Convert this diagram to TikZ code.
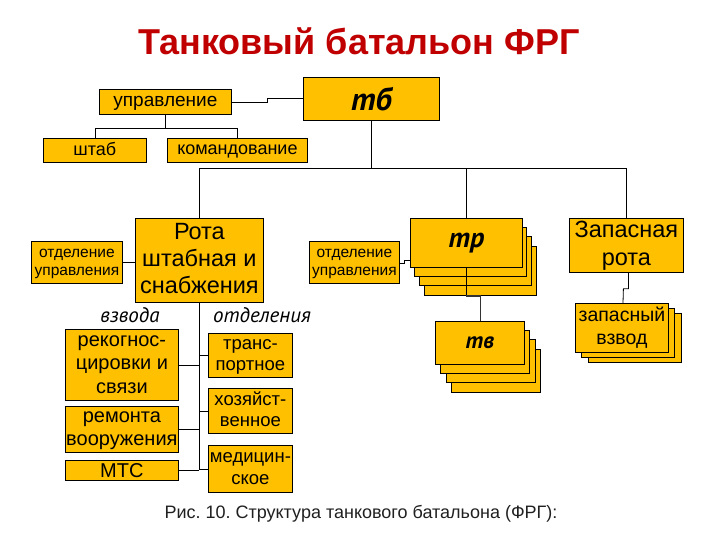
\documentclass[tikz,border=0pt]{standalone}
\usepackage{fontspec}
\setmainfont{Liberation Sans}
\newfontfamily\ptsans{PT Sans}
\frenchspacing
\definecolor{boxc}{HTML}{FFC000}
\definecolor{titlec}{HTML}{C00000}
\definecolor{capc}{HTML}{202020}
\newcommand{\fsz}[2]{\fontsize{#1}{#2}\selectfont}
\newcommand{\st}{\rule[-0.212em]{0pt}{0.905em}}
\tikzset{
  box/.style={draw=black, fill=boxc, line width=0.8pt, inner sep=0pt, anchor=north west, align=center},
  stk/.style={draw=black, fill=boxc, line width=0.8pt},
  conn/.style={draw=black, line width=0.8pt},
  thickconn/.style={draw=black!80, line width=1.6pt},
  grp/.style={font=\ptsans\itshape\fsz{21}{23}, inner sep=0pt, anchor=base},
}
\begin{document}
\begin{tikzpicture}[x=1pt,y=-1pt]
\useasboundingbox (0,0) rectangle (720,540);
\fill[white] (0,0) rectangle (720,540);

% title and caption
\node[font=\bfseries\fsz{36}{40}, text=titlec, anchor=base, inner sep=0pt] (title) at (359,55) {Танковый батальон ФРГ};
\node[font=\fsz{18}{20}, text=capc, anchor=base, inner sep=0pt] (caption) at (361,518) {Рис. 10. Структура танкового батальона (ФРГ):};

% top level
\node[box, minimum width=136, minimum height=43, font=\ptsans\bfseries\itshape\fsz{32}{34}] (tb) at (303,77) {тб};
\node[box, minimum width=132, minimum height=25, font=\fsz{19}{22}] (upr) at (99,89) {\st управление};
\node[box, minimum width=103, minimum height=24, font=\fsz{18}{21}] (shtab) at (43,138) {\st штаб};
\node[box, minimum width=140, minimum height=24, font=\fsz{18}{21}] (kom) at (167,138) {\st командование};

% companies
\node[box, minimum width=128, minimum height=84, font=\fsz{23.5}{27}] (rota) at (135,218) {\st Рота\\\st штабная и\\\st снабжения};
\node[box, minimum width=91, minimum height=42, font=\fsz{15.5}{18}] (oul) at (31,241) {\st отделение\\\st управления};
\node[box, minimum width=90, minimum height=42, font=\fsz{15.5}{18}] (our) at (309,241) {\st отделение\\\st управления};

\foreach \k in {3,2,1} \draw[stk] (410+\k*4.7, 218+\k*9.3) rectangle ++(112,49);
\node[box, minimum width=112, minimum height=49, font=\ptsans\bfseries\itshape\fsz{28}{30}] (tr) at (410,218) {тр};

\foreach \k in {3,2,1} \draw[stk] (435+\k*5.5, 321+\k*9.3) rectangle ++(89,43);
\node[box, minimum width=89, minimum height=43, font=\ptsans\bfseries\itshape\fsz{23}{25}] (tv) at (435,321) {тв};

\node[box, minimum width=114, minimum height=54, font=\fsz{23.5}{28}] (zap) at (569,218) {\st Запасная\\\st рота};
\foreach \k in {2,1} \draw[stk] (575+\k*6.5, 303+\k*5) rectangle ++(93,49);
\node[box, minimum width=93, minimum height=49, font=\fsz{19.5}{23}] (zv) at (575,303) {\st запасный\\\st взвод};

% platoons and sections of HQ company
\node[grp] (vzv) at (130,322) {взвода};
\node[grp] (otd) at (262,322) {отделения};
\node[box, minimum width=113, minimum height=71, font=\fsz{20}{23.5}] (rek) at (65,329) {\st рекогнос-\\\st цировки и\\\st связи};
\node[box, minimum width=113, minimum height=46, font=\fsz{20}{23.5}] (rem) at (65,406) {\st ремонта\\\st вооружения};
\node[box, minimum width=113, minimum height=20, font=\fsz{20}{22}] (mts) at (65,460) {МТС};
\node[box, minimum width=84, minimum height=44, font=\fsz{18.5}{21.5}] (trn) at (208,333) {\st транс-\\\st портное};
\node[box, minimum width=84, minimum height=45, font=\fsz{18.5}{21.5}] (hoz) at (208,388) {\st хозяйст-\\\st венное};
\node[box, minimum width=84, minimum height=47, font=\fsz{18.5}{21.5}] (med) at (208,445) {\st медицин-\\\st ское};

% connectors
\draw[conn] (upr.east) ++(0,0.5) -- ++(36,0) |- (tb.west);
\draw[conn] (upr.south) -- ++(0,14);
\draw[conn] (shtab.north) -- ++(0,-10) -| (kom.north);
\draw[conn] (tb.south) -- ++(0,48);
\draw[conn] (rota.north) -- ++(0,-50) -| (zap.north);
\draw[conn] (tr.north) -- ++(0,-50);
\draw[conn] (oul.east) -- (oul.east -| rota.west);
\draw[conn] (our.east) ++(0,1) -- ++(5,0) |- ([yshift=-17]tr.west);
\draw[conn] (rota.south) -- (rota.south |- mts.east);
\draw[conn] (rek.east) -- (rek.east -| rota.south);
\draw[conn] (rem.east) -- (rem.east -| rota.south);
\draw[conn] (mts.east) -- (mts.east -| rota.south);
\draw[conn] (trn.west) -- (trn.west -| rota.south);
\draw[conn] (hoz.west) -- (hoz.west -| rota.south);
\draw[conn] (med.west) -- (med.west -| rota.south);
\draw[conn] (tr.south) -- ++(0,28) coordinate (trb);
\draw[thickconn] (trb) -- ++(14,0) coordinate (trc) -- (trc |- tv.north);
\draw[conn] (zap.south) ++(2,0) -- ++(0,16) -- ++(-5,0) -- (zv.north -| {623,0});
\end{tikzpicture}
\end{document}
